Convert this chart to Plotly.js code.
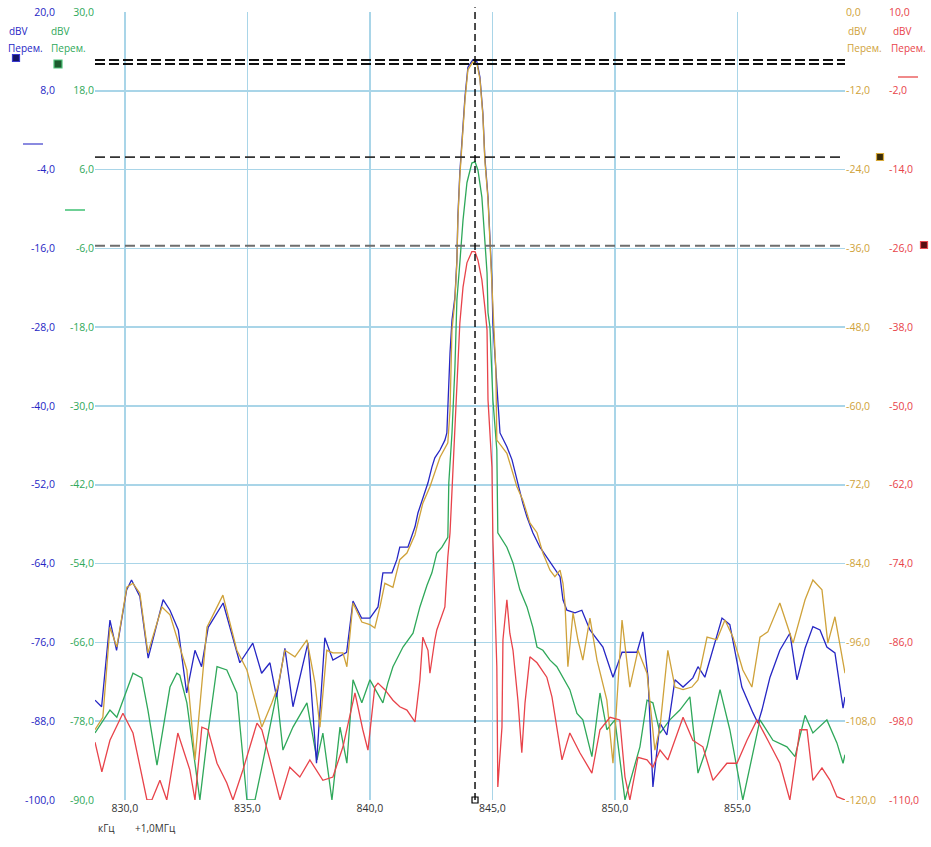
<!DOCTYPE html>
<html><head><meta charset="utf-8">
<script src="https://cdn.plot.ly/plotly-3.0.1.min.js"></script>
<style>html,body{margin:0;padding:0;background:#fff}#chart{width:931px;height:847px}</style>
</head><body><div id="chart"></div>
<script>
// ---- data (kHz, dBV in each trace's own axis units) ----
const blueX = [828.78,829.05,829.39,829.66,830.07,830.27,830.61,830.95,831.56,831.84,832.18,832.52,832.86,833.13,833.40,834.01,834.69,835.22,835.58,835.92,836.19,836.53,836.86,837.47,837.82,838.16,838.49,839.05,839.31,839.66,840.00,840.33,840.53,840.90,841.10,841.22,841.55,841.71,841.84,841.96,842.12,842.24,842.37,842.53,842.65,842.86,843.06,843.14,843.18,843.27,843.35,843.47,843.55,843.59,843.67,843.76,843.88,844.00,844.20,844.37,844.49,844.61,844.69,844.82,844.90,844.98,845.02,845.10,845.22,845.31,845.59,845.80,846.00,846.12,846.24,846.41,846.65,846.94,847.22,847.47,847.76,847.88,848.04,848.37,848.65,848.98,849.27,849.51,849.92,850.29,850.90,851.14,851.35,851.55,851.84,852.12,852.45,852.78,853.18,853.39,853.67,854.16,854.37,854.69,855.18,855.63,855.84,856.00,856.33,856.73,857.14,857.43,857.76,858.08,858.37,858.65,858.98,859.31,859.39];
const blueY = [-84.8,-85.8,-72.6,-77.2,-68.0,-66.5,-69.0,-78.4,-69.5,-71.1,-74.1,-83.7,-77.2,-79.7,-73.7,-70.0,-79.1,-76.1,-80.7,-79.1,-84.3,-76.9,-85.8,-76.1,-94.4,-75.3,-78.7,-77.5,-69.7,-72.3,-72.3,-70.6,-65.4,-65.4,-63.4,-61.5,-61.5,-59.9,-58.4,-56.3,-54.6,-53.2,-51.7,-49.3,-47.9,-46.7,-45.2,-44.1,-40.1,-31.9,-26.9,-23.4,-17.8,-11.2,-4.5,1.0,7.1,11.6,12.7,12.4,10.1,4.6,-2.1,-8.2,-14.3,-20.8,-27.4,-31.5,-39.1,-44.1,-46.2,-48.2,-51.3,-53.2,-54.8,-56.9,-59.3,-61.5,-63.0,-64.5,-66.0,-69.5,-71.1,-71.5,-71.1,-74.1,-75.6,-76.7,-81.3,-77.5,-77.5,-74.4,-81.3,-98.0,-88.3,-90.1,-81.7,-82.8,-81.4,-79.7,-81.3,-75.2,-72.3,-73.3,-82.8,-86.7,-88.3,-86.3,-81.3,-77.2,-74.6,-81.7,-76.9,-73.6,-74.1,-76.7,-77.6,-86.0,-84.3];

const greenX = [828.78,829.39,829.67,830.33,830.69,830.94,831.31,831.51,831.84,832.12,832.24,832.53,833.06,833.35,833.76,834.16,834.57,834.98,835.31,835.59,836.20,836.45,836.86,837.43,837.84,838.08,838.45,838.78,839.06,839.31,839.67,840.00,840.29,840.53,840.73,840.94,841.35,841.76,842.04,842.33,842.53,842.73,842.94,843.18,843.22,843.35,843.47,843.55,843.67,843.80,843.96,844.16,844.29,844.41,844.57,844.65,844.78,844.82,844.90,845.02,845.18,845.22,845.59,845.84,846.12,846.41,846.65,846.82,847.06,847.35,847.63,848.16,848.45,848.69,849.06,849.39,849.67,850.00,850.41,851.02,851.31,851.55,851.84,852.24,852.65,853.06,853.39,853.76,854.29,854.69,855.22,855.92,856.45,857.02,857.35,857.76,858.08,858.65,859.06,859.31,859.39];
const greenY = [-79.8,-76.3,-77.4,-70.7,-71.4,-76.3,-84.7,-80.4,-72.8,-70.7,-71.0,-75.2,-90.0,-80.9,-69.7,-70.2,-73.7,-90.0,-90.0,-85.0,-73.7,-82.4,-78.9,-75.2,-83.9,-79.8,-90.0,-78.9,-84.4,-71.7,-75.2,-71.7,-73.7,-75.2,-72.2,-69.7,-66.7,-64.6,-60.6,-57.3,-55.4,-52.4,-51.5,-50.0,-41.7,-34.1,-24.1,-13.9,-8.2,-1.7,4.0,7.0,7.2,5.9,1.8,-3.2,-9.7,-15.8,-18.0,-29.1,-36.7,-49.3,-51.5,-53.9,-58.0,-60.6,-63.7,-66.7,-67.2,-68.7,-69.7,-73.2,-76.8,-77.8,-83.4,-73.7,-79.3,-77.8,-90.0,-81.9,-74.8,-75.2,-79.8,-77.8,-76.3,-74.3,-85.9,-81.9,-73.2,-79.3,-90.0,-77.8,-80.9,-81.9,-83.4,-77.1,-79.8,-77.8,-81.3,-84.4,-83.1];

const goldX = [828.78,829.10,829.39,829.67,830.08,830.33,830.61,830.94,831.51,831.84,832.24,832.53,832.86,833.35,834.00,834.57,834.98,835.59,836.00,836.24,836.53,836.94,837.43,837.76,837.96,838.24,838.49,838.90,839.06,839.31,839.67,840.00,840.20,840.41,840.61,840.94,841.22,841.51,841.84,842.16,842.45,842.86,843.18,843.27,843.35,843.47,843.55,843.59,843.67,843.76,843.88,844.00,844.20,844.37,844.49,844.61,844.69,844.82,844.90,844.98,845.06,845.14,845.18,845.59,846.00,846.24,846.53,846.82,847.06,847.35,847.55,847.76,847.88,847.96,848.08,848.29,848.49,848.69,848.98,849.27,849.67,849.92,850.29,850.49,850.61,850.94,851.31,851.63,851.84,852.16,852.45,852.78,853.14,853.39,853.76,854.16,854.49,854.82,855.22,855.59,855.92,856.24,856.73,857.27,857.76,858.08,858.45,858.69,858.98,859.39];
const goldY = [-109.3,-107.4,-93.7,-96.7,-87.6,-87.0,-88.5,-97.6,-90.6,-91.8,-96.7,-100.2,-113.9,-93.7,-88.8,-97.2,-100.2,-108.9,-105.2,-102.8,-97.2,-98.2,-95.6,-102.2,-108.9,-97.2,-97.6,-97.6,-99.7,-90.0,-92.9,-93.3,-93.8,-90.6,-87.0,-87.6,-83.4,-82.4,-79.6,-74.8,-72.3,-67.8,-65.6,-60.6,-48.4,-43.9,-38.1,-31.7,-25.0,-19.5,-13.4,-8.8,-7.6,-7.9,-10.2,-15.7,-22.5,-28.6,-34.7,-41.3,-48.4,-54.5,-65.2,-67.2,-72.3,-74.3,-77.8,-79.3,-82.4,-85.0,-86.0,-85.0,-87.0,-90.0,-99.7,-91.5,-95.6,-98.7,-92.3,-98.7,-104.8,-114.4,-92.6,-98.7,-102.8,-97.2,-100.7,-112.4,-108.9,-97.2,-102.8,-103.2,-102.8,-101.7,-95.2,-95.6,-92.6,-95.2,-100.2,-102.8,-95.2,-94.4,-90.0,-96.1,-89.5,-86.5,-88.0,-96.1,-92.1,-100.7];

const redX = [828.78,829.06,829.39,829.92,830.33,830.61,830.90,831.10,831.43,831.71,832.16,832.65,832.86,833.14,833.39,833.76,834.16,834.41,834.82,835.39,835.59,835.92,836.33,836.73,837.14,837.55,838.08,838.49,838.90,839.39,839.71,839.92,840.20,840.33,840.61,840.94,841.22,841.51,841.84,842.04,842.16,842.37,842.45,842.65,842.73,843.06,843.18,843.27,843.47,843.67,843.80,843.96,844.16,844.29,844.41,844.57,844.69,844.78,844.82,844.98,845.02,845.10,845.18,845.22,845.39,845.43,845.51,845.59,845.71,845.84,846.04,846.20,846.33,846.41,846.53,846.82,847.22,847.43,847.67,847.84,848.04,848.16,848.57,849.06,849.39,849.80,850.20,850.41,850.61,850.94,851.31,851.55,851.84,852.16,852.78,853.18,853.59,854.00,854.57,854.98,855.39,855.80,856.24,856.73,857.14,857.55,857.84,858.08,858.45,858.78,859.06,859.39];
const redY = [-101.2,-105.7,-100.9,-96.8,-99.8,-105.0,-110.0,-110.0,-107.0,-110.0,-99.8,-105.4,-110.0,-98.9,-99.3,-104.4,-107.4,-110.0,-105.4,-98.3,-99.3,-103.9,-110.0,-105.0,-106.5,-103.9,-107.0,-106.5,-101.9,-93.7,-99.3,-102.4,-92.8,-92.2,-93.2,-94.8,-95.8,-96.3,-98.1,-91.7,-85.2,-87.2,-90.7,-85.6,-84.1,-80.6,-73.0,-69.3,-54.1,-37.4,-31.9,-28.2,-26.5,-26.5,-27.8,-30.8,-34.9,-38.4,-49.1,-59.3,-70.4,-80.6,-89.7,-108.0,-98.9,-85.6,-83.0,-79.5,-84.6,-87.2,-94.8,-102.8,-95.2,-92.2,-88.2,-89.1,-91.3,-94.3,-99.8,-103.9,-101.3,-99.8,-102.8,-105.9,-99.3,-97.4,-97.8,-106.5,-110.0,-103.5,-103.9,-105.0,-102.4,-103.9,-97.4,-100.9,-101.9,-107.0,-104.4,-104.4,-100.9,-97.8,-100.9,-104.4,-110.0,-99.3,-99.3,-107.0,-105.1,-107.0,-109.5,-110.0];

// axis scales and ticks
const xTicks = [830, 835, 840, 845, 850, 855];
const xTickText = ['830,0', '835,0', '840,0', '845,0', '850,0', '855,0'];
const blueTicks = [20, 8, -4, -16, -28, -40, -52, -64, -76, -88, -100];
const greenTicks = [30, 18, 6, -6, -18, -30, -42, -54, -66, -78, -90];
const goldTicks = [0, -12, -24, -36, -48, -60, -72, -84, -96, -108, -120];
const redTicks = [10, -2, -14, -26, -38, -50, -62, -74, -86, -98, -110];
const fmt = v => v.toFixed(1).replace('.', ',');

// marker levels
const peakFreq = 844.29;
const levelBlue = 12.7, levelGold = -7.9, levelGreen = 7.9, levelRed = -25.6;

const C = {blue:'#2626c4', green:'#2fa85a', gold:'#cfa23a', red:'#e8434a', grid:'#a9d5e8'};
const lw = 1.3;

const traces = [
  {x: redX, y: redY, yaxis: 'y4', mode: 'lines', line: {color: C.red, width: lw}, name: 'red'},
  {x: greenX, y: greenY, yaxis: 'y', mode: 'lines', line: {color: C.green, width: lw}, name: 'green'},
  {x: goldX, y: goldY, yaxis: 'y3', mode: 'lines', line: {color: C.gold, width: lw}, name: 'gold'},
  {x: blueX, y: blueY, yaxis: 'y2', mode: 'lines', line: {color: C.blue, width: lw}, name: 'blue'},
  {x: [peakFreq], y: [-100], yaxis: 'y2', mode: 'markers', cliponaxis: false,
   marker: {symbol: 'square', size: 6, color: '#fff', line: {color: '#000', width: 1.2}}, name: 'mk'}
];

const F = 'Open Sans, Segoe UI, DejaVu Sans, sans-serif';
const yBase = (ticks, col) => ({
  tickmode: 'array', tickvals: ticks, ticktext: ticks.map(fmt),
  tickfont: {family: F, size: 10.5, color: col}, ticks: '', showline: false, zeroline: false
});

const px = p => (p - 95) / 750;      // page x -> paper
const py = p => (800 - p) / 788;     // page y -> paper

function sq(cx, cy, s, fill, line) {
  return {type: 'rect', xref: 'paper', yref: 'paper', x0: px(cx - s/2), x1: px(cx + s/2),
    y0: py(cy + s/2), y1: py(cy - s/2), fillcolor: fill, line: {color: line, width: 1.2}};
}
function hl(x0, x1, y, col, w) {
  return {type: 'line', xref: 'paper', yref: 'paper', x0: px(x0), x1: px(x1), y0: py(y), y1: py(y), line: {color: col, width: w}};
}

const shapes = [
  {type: 'line', xref: 'paper', yref: 'y2', x0: 0, x1: 1, y0: levelBlue, y1: levelBlue, line: {color: '#111', width: 2, dash: '10px,4px'}},
  {type: 'line', xref: 'paper', yref: 'y3', x0: 0, x1: 1, y0: levelGold, y1: levelGold, line: {color: '#111', width: 2, dash: '10px,4px'}},
  {type: 'line', xref: 'paper', yref: 'y', x0: 0, x1: 1, y0: levelGreen, y1: levelGreen, line: {color: '#333', width: 1.6, dash: '10px,5px'}},
  {type: 'line', xref: 'paper', yref: 'y4', x0: 0, x1: 1, y0: levelRed, y1: levelRed, line: {color: '#6e6e6e', width: 2, dash: '10px,5px'}},
  {type: 'line', xref: 'x', yref: 'paper', x0: peakFreq, x1: peakFreq, y0: 0, y1: 1.006, line: {color: '#000', width: 1.4, dash: '7px,4px'}},
  sq(16, 58, 7, '#141466', '#3a3ad0'),
  sq(58, 64, 8, '#1d5a2e', '#4fc47a'),
  sq(880, 157, 7, '#3a2c08', '#d8aa3a'),
  sq(924, 245, 7, '#5a0c10', '#e84a50'),
  hl(23, 43, 144, '#8a8ae0', 2),
  hl(65, 85, 210, '#6fd096', 2),
  hl(898, 918, 77, '#f08a8a', 2)
];

function ann(x, y, text, col) {
  return {xref: 'paper', yref: 'paper', x: px(x), y: py(y), xanchor: 'left', yanchor: 'middle',
    text: text, showarrow: false, font: {family: F, size: 10, color: col}};
}
const annotations = [
  ann(7, 31, 'dBV', C.blue), ann(49, 31, 'dBV', C.green),
  ann(6, 48, 'Перем.', C.blue), ann(49, 48, 'Перем.', C.green),
  ann(846, 31, 'dBV', C.gold), ann(891, 31, 'dBV', C.red),
  ann(845, 48, 'Перем.', C.gold), ann(889, 48, 'Перем.', C.red),
  ann(96, 828, 'кГц', '#333'), ann(133, 828, '+1,0МГц', '#333')
];

const layout = {
  width: 931, height: 847, margin: {l: 95, r: 86, t: 12, b: 47},
  paper_bgcolor: '#fff', plot_bgcolor: '#fff', showlegend: false,
  xaxis: {range: [828.78, 859.39], tickmode: 'array', tickvals: xTicks, ticktext: xTickText,
    showgrid: true, gridcolor: C.grid, gridwidth: 1.5, zeroline: false, showline: false, ticks: '',
    tickfont: {family: F, size: 10.5, color: '#333'}},
  yaxis: Object.assign(yBase(greenTicks, C.green), {range: [-90, 30], showgrid: true, gridcolor: C.grid, gridwidth: 1.5}),
  yaxis2: Object.assign(yBase(blueTicks, C.blue), {range: [-100, 20], overlaying: 'y', side: 'left', anchor: 'free', position: 0, showgrid: false, ticklabelstandoff: 40}),
  yaxis3: Object.assign(yBase(goldTicks, C.gold), {range: [-120, 0], overlaying: 'y', side: 'right', anchor: 'x', showgrid: false}),
  yaxis4: Object.assign(yBase(redTicks, C.red), {range: [-110, 10], overlaying: 'y', side: 'right', anchor: 'free', position: 1, showgrid: false, ticklabelstandoff: 43}),
  shapes: shapes, annotations: annotations
};

Plotly.newPlot('chart', traces, layout, {displayModeBar: false, staticPlot: true});
</script></body></html>
